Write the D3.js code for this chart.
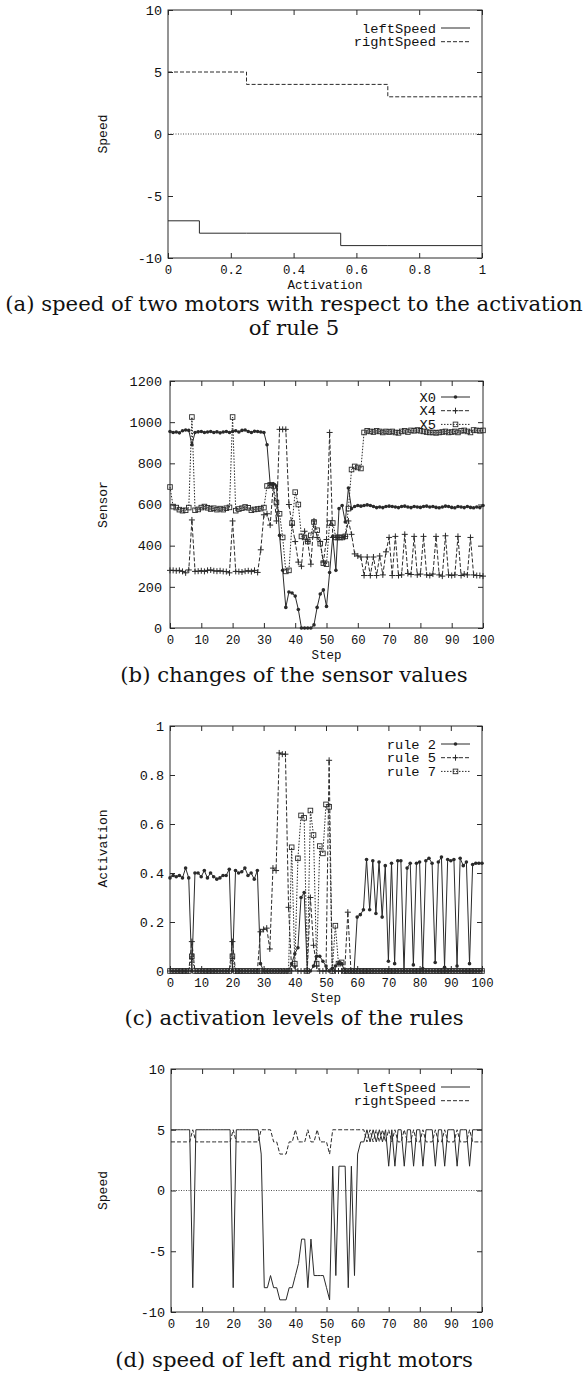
<!DOCTYPE html>
<html>
<head>
<meta charset="utf-8">
<script src="https://cdnjs.cloudflare.com/ajax/libs/d3/7.8.5/d3.min.js"></script>
<style>
  body { margin: 0; background: #fff; }
</style>
</head>
<body>
<div id="figure"></div>
<script>
// ---- data -----------------------------------------------------------

// (a) motor speed vs activation of rule 5 (step breakpoints)
var actA   = [0, 0.1, 0.25, 0.55, 0.7, 1];
var leftA  = [-7, -8, -8, -9, -9, -9];
var rightA = [5, 5, 4, 4, 3, 3];

// steps 0..100 shared by (b), (c), (d)
var steps = d3.range(0, 101);

// (b) sensor values
var x0 = [955, 950, 952, 948, 958, 962, 960, 890, 950, 953,
          955, 950, 952, 955, 950, 953, 948, 952, 955, 950,
          955, 958, 952, 960, 962, 955, 950, 956, 955, 952,
          950, 890, 700, 700, 690, 450, 280, 100, 175, 170,
          155, 90, 0, 0, 0, 0, 15, 100, 165, 185,
          105, 270, 445, 280, 580, 595, 515, 680, 580, 590,
          595, 592, 595, 598, 595, 590, 585, 588, 585, 590,
          592, 590, 588, 585, 590, 592, 588, 585, 590, 588,
          586, 590, 592, 588, 590, 586, 584, 588, 592, 590,
          586, 584, 590, 588, 585, 590, 586, 584, 588, 585,
          595];
var x4 = [280, 280, 278, 280, 275, 268, 282, 525, 275, 276,
          278, 275, 280, 282, 278, 276, 278, 275, 274, 268,
          520, 275, 274, 272, 276, 278, 274, 280, 270, 380,
          550, 555, 500, 695, 520, 965, 965, 965, 600, 500,
          420, 320, 300, 470, 420, 310, 520, 440, 420, 320,
          430, 950, 440, 440, 440, 440, 445, 520, 455, 360,
          350, 345, 255, 345, 255, 345, 255, 350, 258, 370,
          440, 255, 445, 255, 258, 455, 265, 260, 445, 258,
          262, 445, 258, 255, 262, 445, 258, 252, 448, 258,
          255, 258, 445, 255, 262, 258, 440, 258, 255, 255,
          252];
var x5 = [685, 590, 585, 575, 570, 572, 585, 1025, 572, 576,
          585, 590, 584, 578, 582, 575, 580, 575, 582, 586,
          1025, 570, 578, 582, 588, 584, 572, 576, 578, 580,
          585, 690, 695, 690, 610, 555, 440, 275, 280, 510,
          660, 600, 445, 440, 420, 450, 515, 475, 410, 315,
          310, 510, 510, 440, 440, 440, 445, 580, 770, 785,
          780, 775, 950, 958, 955, 952, 958, 955, 950, 955,
          952, 955, 950, 948, 955, 958, 952, 960, 958, 962,
          958, 955, 952, 950, 950, 948, 950, 952, 955, 950,
          952, 955, 950, 958, 960, 955, 950, 962, 960, 958,
          960];

// (c) activation levels
var rule2 = [0.38, 0.39, 0.385, 0.39, 0.38, 0.42, 0.38, 0, 0.40, 0.40,
             0.385, 0.41, 0.38, 0.40, 0.385, 0.375, 0.38, 0.39, 0.39, 0.415,
             0, 0.41, 0.40, 0.405, 0.42, 0.39, 0.40, 0.375, 0.41, 0.03,
             0, 0, 0, 0, 0, 0, 0, 0, 0, 0.03,
             0.07, 0.095, 0.30, 0.32, 0, 0, 0.02, 0.06, 0.06, 0.04,
             0.02, 0, 0.01, 0.02, 0.03, 0.03, 0, 0, 0, 0,
             0.22, 0.23, 0.25, 0.455, 0.25, 0.45, 0.235, 0.445, 0.22, 0.43,
             0.04, 0.44, 0.03, 0.45, 0.45, 0, 0.42, 0.44, 0.025, 0.44,
             0.445, 0.01, 0.45, 0.46, 0.44, 0.035, 0.445, 0.465, 0.015, 0.455,
             0.45, 0.455, 0.02, 0.46, 0.43, 0.445, 0.03, 0.435, 0.44, 0.44,
             0.44];
var rule5 = [0, 0, 0, 0, 0, 0, 0, 0.12, 0, 0,
             0, 0, 0, 0, 0, 0, 0, 0, 0, 0,
             0.12, 0, 0, 0, 0, 0, 0, 0, 0, 0.16,
             0.17, 0.175, 0.09, 0.42, 0.41, 0.89, 0.885, 0.885, 0.26, 0,
             0.02, 0, 0, 0, 0, 0.30, 0.105, 0.02, 0, 0,
             0, 0.86, 0, 0, 0, 0, 0, 0.24, 0, 0,
             0, 0, 0, 0, 0, 0, 0, 0, 0, 0,
             0, 0, 0, 0, 0, 0, 0, 0, 0, 0,
             0, 0, 0, 0, 0, 0, 0, 0, 0, 0,
             0, 0, 0, 0, 0, 0, 0, 0, 0, 0,
             0];
var rule7 = [0, 0, 0, 0, 0, 0, 0, 0.06, 0, 0,
             0, 0, 0, 0, 0, 0, 0, 0, 0, 0,
             0.06, 0, 0, 0, 0, 0, 0, 0, 0, 0,
             0, 0, 0, 0, 0, 0, 0, 0, 0, 0.505,
             0.03, 0.46, 0.635, 0.625, 0, 0.655, 0.555, 0.03, 0.51, 0.48,
             0.68, 0.67, 0, 0.185, 0.03, 0.035, 0, 0, 0, 0,
             0, 0, 0, 0, 0, 0, 0, 0, 0, 0,
             0, 0, 0, 0, 0, 0, 0, 0, 0, 0,
             0, 0, 0, 0, 0, 0, 0, 0, 0, 0,
             0, 0, 0, 0, 0, 0, 0, 0, 0, 0,
             0];

// (d) motor speeds over time
var leftD = [5, 5, 5, 5, 5, 5, 5, -8, 5, 5,
             5, 5, 5, 5, 5, 5, 5, 5, 5, 5,
             -8, 5, 5, 5, 5, 5, 5, 5, 5, 3,
             -8, -8, -7, -8, -8, -9, -9, -9, -8, -8,
             -7, -6, -4, -4, -8, -4, -7, -7, -7, -7,
             -8, -9, 2, -7, 2, 2, 2, -8, 2, -7,
             3, 4, 4, 5, 4, 5, 4, 5, 4, 5,
             2, 5, 2, 5, 5, 2, 5, 5, 2, 5,
             5, 2, 5, 5, 5, 2, 5, 5, 2, 5,
             5, 5, 2, 5, 5, 5, 2, 5, 5, 5,
             5];
var rightD = [4, 4, 4, 4, 4, 4, 4, 5, 4, 4,
              4, 4, 4, 4, 4, 4, 4, 4, 4, 4,
              5, 4, 4, 4, 4, 4, 4, 4, 4, 5,
              5, 5, 5, 4, 4, 3, 3, 3, 4, 4,
              5, 4, 4, 4, 5, 4, 4, 5, 4, 4,
              4, 3, 5, 5, 5, 5, 5, 5, 5, 5,
              5, 5, 5, 4, 5, 4, 5, 4, 5, 4,
              5, 4, 5, 4, 4, 5, 4, 4, 5, 4,
              4, 5, 4, 4, 4, 5, 4, 4, 5, 4,
              4, 4, 5, 4, 4, 4, 5, 4, 4, 4,
              4];

var stepTicks = [0, 10, 20, 30, 40, 50, 60, 70, 80, 90, 100];

// ---- drawing --------------------------------------------------------

var W = 585, H = 1380;
var ink = '#2a2a2a';
var mono = "'Liberation Mono', 'DejaVu Sans Mono', monospace";
var serif = "'DejaVu Serif', serif";

var svg = d3.select('#figure').append('svg')
    .attr('width', W).attr('height', H)
    .style('display', 'block');

var dashes = { solid: null, dashed: '4,2', dotted: '1.5,1.5' };

// draw one marker glyph at (px, py)
function marker(g, type, px, py) {
    if (type === 'dot') {
        g.append('circle').attr('cx', px).attr('cy', py).attr('r', 1.8)
            .attr('fill', ink);
    } else if (type === 'plus') {
        g.append('path')
            .attr('d', 'M' + (px - 3) + ',' + py + 'H' + (px + 3) +
                       'M' + px + ',' + (py - 3) + 'V' + (py + 3))
            .attr('stroke', ink).attr('stroke-width', 1);
    } else if (type === 'square') {
        g.append('rect').attr('x', px - 2.3).attr('y', py - 2.3)
            .attr('width', 4.6).attr('height', 4.6)
            .attr('fill', 'none').attr('stroke', ink).attr('stroke-width', 0.9);
    }
}

function panel(p) {
    var g = svg.append('g');
    var x = d3.scaleLinear().domain(p.xDomain).range([p.box.l, p.box.r]);
    var y = d3.scaleLinear().domain(p.yDomain).range([p.box.b, p.box.t]);

    // dotted zero axis
    if (p.zeroLine) {
        g.append('line')
            .attr('x1', p.box.l).attr('x2', p.box.r)
            .attr('y1', y(0)).attr('y2', y(0))
            .attr('stroke', '#555').attr('stroke-width', 1)
            .attr('stroke-dasharray', '1,1.5');
    }

    // series lines + markers
    p.series.forEach(function(s) {
        var pts = s.x.map(function(d, i) { return [d, s.y[i]]; });
        var line = d3.line()
            .x(function(d) { return x(d[0]); })
            .y(function(d) { return y(d[1]); });
        if (s.step) line.curve(d3.curveStepAfter);
        g.append('path').attr('d', line(pts))
            .attr('fill', 'none').attr('stroke', ink).attr('stroke-width', 1)
            .attr('stroke-dasharray', dashes[s.dash]);
        if (s.marker) {
            pts.forEach(function(d) { marker(g, s.marker, x(d[0]), y(d[1])); });
        }
    });

    // axes with inward ticks, mirrored on top/right
    function styleAxis(a) {
        a.select('.domain').remove();
        a.selectAll('line').attr('stroke', ink);
        a.selectAll('text').attr('font-family', mono).attr('fill', '#111');
    }
    var ax = g.append('g').attr('transform', 'translate(0,' + p.box.b + ')')
        .call(d3.axisBottom(x).tickValues(p.xTicks).tickFormat(p.xFormat)
            .tickSize(-5).tickSizeOuter(0).tickPadding(7));
    styleAxis(ax);
    ax.selectAll('text').attr('font-size', 12.3);

    var ay = g.append('g').attr('transform', 'translate(' + p.box.l + ',0)')
        .call(d3.axisLeft(y).tickValues(p.yTicks).tickFormat(p.yFormat)
            .tickSize(-5).tickSizeOuter(0).tickPadding(p.yPad || 6));
    styleAxis(ay);
    ay.selectAll('text').attr('font-size', 13.5);

    var at = g.append('g').attr('transform', 'translate(0,' + p.box.t + ')')
        .call(d3.axisTop(x).tickValues(p.xTicks).tickFormat('')
            .tickSize(-5).tickSizeOuter(0));
    styleAxis(at);
    var ar = g.append('g').attr('transform', 'translate(' + p.box.r + ',0)')
        .call(d3.axisRight(y).tickValues(p.yTicks).tickFormat('')
            .tickSize(-5).tickSizeOuter(0));
    styleAxis(ar);

    // border
    g.append('rect')
        .attr('x', p.box.l).attr('y', p.box.t)
        .attr('width', p.box.r - p.box.l).attr('height', p.box.b - p.box.t)
        .attr('fill', 'none').attr('stroke', ink).attr('stroke-width', 1);

    // axis titles
    g.append('text').text(p.xLabel)
        .attr('x', (p.box.l + p.box.r) / 2).attr('y', p.box.b + 31)
        .attr('text-anchor', 'middle')
        .attr('font-family', mono).attr('font-size', 12.5).attr('fill', '#111');
    g.append('text').text(p.yLabel)
        .attr('transform', 'translate(107,' + (p.box.t + p.box.b) / 2 + ') rotate(-90)')
        .attr('text-anchor', 'middle')
        .attr('font-family', mono).attr('font-size', 13).attr('fill', '#111');

    // legend, top right inside the frame
    p.series.forEach(function(s, i) {
        var ly = p.legendY + i * 13.7;
        g.append('text').text(s.name)
            .attr('x', 436).attr('y', ly + 4.5)
            .attr('text-anchor', 'end')
            .attr('font-family', mono).attr('font-size', 13.7).attr('fill', '#111');
        g.append('line')
            .attr('x1', 441).attr('x2', 470).attr('y1', ly).attr('y2', ly)
            .attr('stroke', ink).attr('stroke-width', 1)
            .attr('stroke-dasharray', dashes[s.dash]);
        if (s.marker) marker(g, s.marker, 455.5, ly);
    });

    // caption lines
    p.caption.forEach(function(c) {
        g.append('text').attr('class', 'caption').text(c.text)
            .attr('x', 294).attr('y', c.y)
            .attr('text-anchor', 'middle')
            .attr('font-family', serif).attr('font-size', 19).attr('fill', '#111');
    });
}

var fmtNum = function(d) { return String(d); };

panel({
    box: {l: 168, r: 482, t: 10, b: 258},
    xDomain: [0, 1], yDomain: [-10, 10],
    xTicks: [0, 0.2, 0.4, 0.6, 0.8, 1], yTicks: [-10, -5, 0, 5, 10],
    xFormat: fmtNum, yFormat: fmtNum,
    xLabel: 'Activation', yLabel: 'Speed', zeroLine: true, legendY: 28,
    series: [
        {name: 'leftSpeed', x: actA, y: leftA, dash: 'solid', step: true},
        {name: 'rightSpeed', x: actA, y: rightA, dash: 'dashed', step: true}
    ],
    caption: [
        {text: '(a) speed of two motors with respect to the activation', y: 311},
        {text: 'of rule 5', y: 335}
    ]
});

panel({
    box: {l: 170, r: 483, t: 381, b: 628},
    xDomain: [0, 100], yDomain: [0, 1200],
    xTicks: stepTicks, yTicks: [0, 200, 400, 600, 800, 1000, 1200],
    xFormat: fmtNum, yFormat: fmtNum, yPad: 8,
    xLabel: 'Step', yLabel: 'Sensor', legendY: 397,
    series: [
        {name: 'X0', x: steps, y: x0, dash: 'solid', marker: 'dot'},
        {name: 'X4', x: steps, y: x4, dash: 'dashed', marker: 'plus'},
        {name: 'X5', x: steps, y: x5, dash: 'dotted', marker: 'square'}
    ],
    caption: [{text: '(b) changes of the sensor values', y: 682}]
});

panel({
    box: {l: 170, r: 482, t: 726, b: 971},
    xDomain: [0, 100], yDomain: [0, 1],
    xTicks: stepTicks, yTicks: [0, 0.2, 0.4, 0.6, 0.8, 1],
    xFormat: fmtNum, yFormat: fmtNum,
    xLabel: 'Step', yLabel: 'Activation', legendY: 744,
    series: [
        {name: 'rule 2', x: steps, y: rule2, dash: 'solid', marker: 'dot'},
        {name: 'rule 5', x: steps, y: rule5, dash: 'dashed', marker: 'plus'},
        {name: 'rule 7', x: steps, y: rule7, dash: 'dotted', marker: 'square'}
    ],
    caption: [{text: '(c) activation levels of the rules', y: 1025}]
});

panel({
    box: {l: 171, r: 482, t: 1069, b: 1312},
    xDomain: [0, 100], yDomain: [-10, 10],
    xTicks: stepTicks, yTicks: [-10, -5, 0, 5, 10],
    xFormat: fmtNum, yFormat: fmtNum,
    xLabel: 'Step', yLabel: 'Speed', zeroLine: true, legendY: 1087,
    series: [
        {name: 'leftSpeed', x: steps, y: leftD, dash: 'solid'},
        {name: 'rightSpeed', x: steps, y: rightD, dash: 'dashed'}
    ],
    caption: [{text: '(d) speed of left and right motors', y: 1367}]
});

// fit caption size so the long first line spans the page like the original
var first = svg.select('.caption').node();
var scale = 578 / first.getComputedTextLength();
svg.selectAll('.caption').attr('font-size', 19 * scale);
</script>
</body>
</html>
